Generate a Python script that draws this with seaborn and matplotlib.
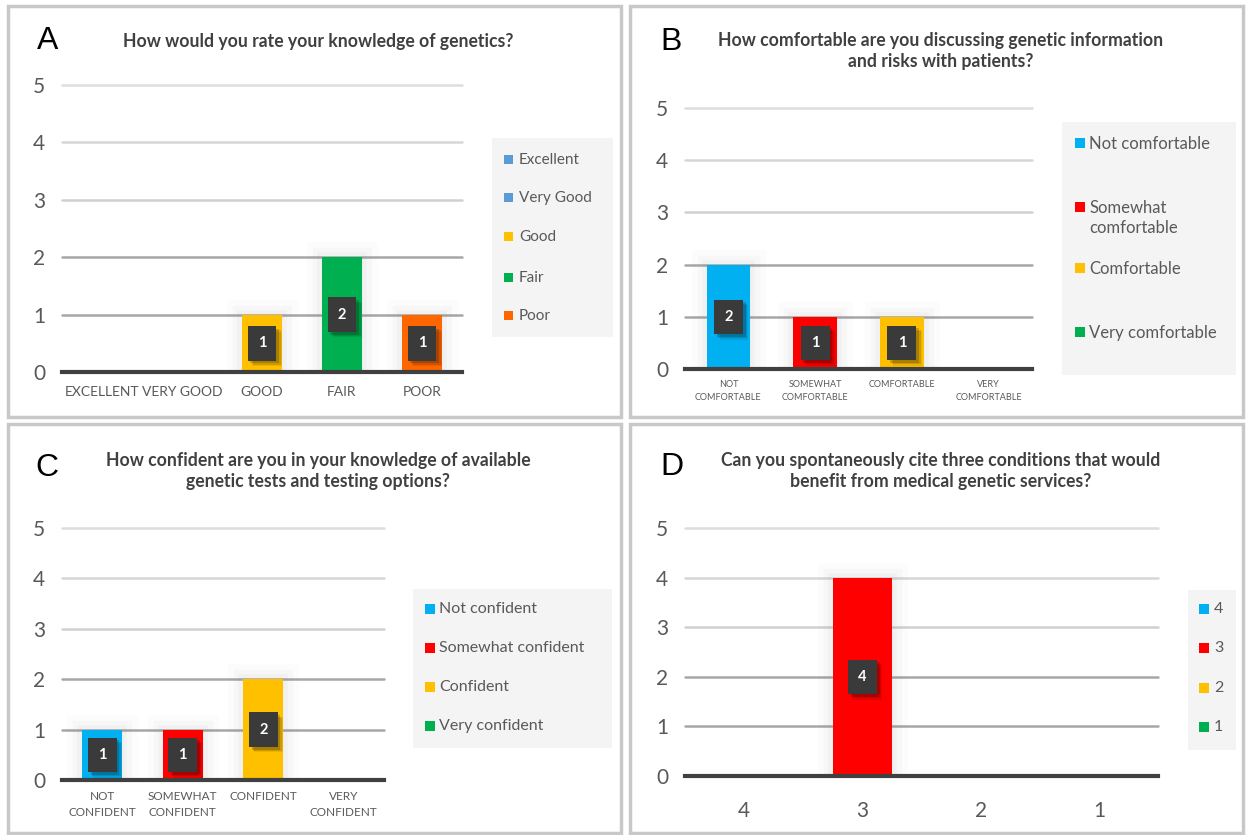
import matplotlib
matplotlib.use("Agg")
import matplotlib.pyplot as plt
import matplotlib.patheffects as pe
from matplotlib.patches import Rectangle
import pandas as pd
import seaborn as sns

# ---- survey answers -------------------------------------------------------
a_categories = ["EXCELLENT", "VERY GOOD", "GOOD", "FAIR", "POOR"]
a_labels = ["Excellent", "Very Good", "Good", "Fair", "Poor"]
a_values = [0, 0, 1, 2, 1]
a_colors = ["#5B9BD5", "#5B9BD5", "#FFC000", "#00B050", "#FF6600"]
a_title = "How would you rate your knowledge of genetics?"

b_categories = ["NOT\nCOMFORTABLE", "SOMEWHAT\nCOMFORTABLE", "COMFORTABLE", "VERY\nCOMFORTABLE"]
b_labels = ["Not comfortable", "Somewhat\ncomfortable", "Comfortable", "Very comfortable"]
b_values = [2, 1, 1, 0]
b_colors = ["#00B0F0", "#FF0000", "#FFC000", "#00B050"]
b_title = "How comfortable are you discussing genetic information\nand risks with patients?"

c_categories = ["NOT\nCONFIDENT", "SOMEWHAT\nCONFIDENT", "CONFIDENT", "VERY\nCONFIDENT"]
c_labels = ["Not confident", "Somewhat confident", "Confident", "Very confident"]
c_values = [1, 1, 2, 0]
c_colors = ["#00B0F0", "#FF0000", "#FFC000", "#00B050"]
c_title = "How confident are you in your knowledge of available\ngenetic tests and testing options?"

d_categories = ["4", "3", "2", "1"]
d_labels = ["4", "3", "2", "1"]
d_values = [0, 4, 0, 0]
d_colors = ["#00B0F0", "#FF0000", "#FFC000", "#00B050"]
d_title = "Can you spontaneously cite three conditions that would\nbenefit from medical genetic services?"

y_ticks = [0, 1, 2, 3, 4, 5]

# ---- style ------------------------------------------------------------------
sns.set_style("white")
plt.rcParams["font.family"] = ["Lato", "DejaVu Sans"]

W, H = 1247, 835
fig = plt.figure(figsize=(W / 100, H / 100), dpi=100)
fig.patch.set_facecolor("white")

TXT = "#595959"
AXIS = "#404040"


def px_rect(x0, x1, ytop, ybot):
    return [x0 / W, 1 - ybot / H, (x1 - x0) / W, (ybot - ytop) / H]


def fx(x):
    return x / W


def fy(y):
    return 1 - y / H


# soft glow around bars and a blurred drop shadow under value boxes
BAR_GLOW = [pe.Stroke(linewidth=w, foreground="#808080", alpha=a)
            for w, a in [(22, 0.025), (14, 0.035), (7, 0.045)]] + [pe.Normal()]
BOX_SHADOW = [pe.SimplePatchShadow(offset=(o, -o), shadow_rgbFace="black", alpha=a)
              for o, a in [(4, 0.08), (3, 0.12), (2, 0.18)]] + [pe.Normal()]


def panel(rect, cats, labels, values, colors, xfs, xpad, yfs=15):
    ax = fig.add_axes(rect)
    df = pd.DataFrame({"cat": cats, "label": labels, "n": values})
    sns.barplot(data=df, x="cat", y="n", hue="label", order=cats,
                hue_order=labels, palette=colors, dodge=False, width=0.5,
                saturation=1, legend=False, ax=ax, zorder=3,
                linewidth=0, edgecolor="none")
    n = len(cats)
    ax.set_xlim(-0.5, n - 0.5)
    ax.set_ylim(0, 5)
    ax.set_yticks(y_ticks)
    ax.set_xlabel("")
    ax.set_ylabel("")
    for s in ["top", "right", "left"]:
        ax.spines[s].set_visible(False)
    ax.spines["bottom"].set_color(AXIS)
    ax.spines["bottom"].set_linewidth(3)
    ax.spines["bottom"].set_zorder(5)
    grid_cols = {1: "#a6a6a6", 2: "#a6a6a6", 3: "#d0d0d0", 4: "#d6d6d6", 5: "#dddddd"}
    for v in y_ticks[1:]:
        ax.axhline(v, color=grid_cols[v], lw=1.8, zorder=1, clip_on=False)
    ax.set_xticks(range(n))
    ax.set_xticklabels(cats, fontsize=xfs, color=TXT, linespacing=1.5)
    ax.set_xticks([i - 0.5 for i in range(n + 1)], minor=True)
    ax.tick_params(axis="x", which="major", length=0, pad=xpad)
    ax.tick_params(axis="x", which="minor", length=5, width=2, color=AXIS,
                   direction="out")
    ax.tick_params(axis="y", length=0, pad=12, labelsize=yfs, labelcolor=TXT)
    ax.set_facecolor("none")
    # value labels in dark boxes at the middle of each bar
    for p in ax.patches:
        h = p.get_height()
        if h > 0:
            p.set_path_effects(BAR_GLOW)
            t = ax.text(p.get_x() + p.get_width() / 2, h / 2, f"{int(h)}",
                        ha="center", va="center", color="white",
                        fontsize=10.5, fontweight="bold", zorder=6,
                        bbox=dict(boxstyle="square,pad=0.7", fc="#3a3a3a",
                                  ec="none"))
            t.get_bbox_patch().set_path_effects(BOX_SHADOW)
    return ax


def legend_box(x0, x1, ytop, ybot, labels, colors, ys, fs, mx, msize, tx):
    fig.add_artist(Rectangle((fx(x0), fy(ybot)), fx(x1 - x0), (ybot - ytop) / H,
                             transform=fig.transFigure, fc="#f4f4f4", ec="none",
                             zorder=0))
    for lab, col, y in zip(labels, colors, ys):
        fig.add_artist(Rectangle((fx(mx), fy(y + msize / 2)), fx(msize), msize / H,
                                 transform=fig.transFigure, fc=col, ec="none"))
        fig.text(fx(tx), fy(y - fs * 1.39 * 0.42), lab, fontsize=fs, color=TXT,
                 ha="left", va="top", linespacing=1.3)


def heading(letter, lx, ly, title, tx, ty):
    fig.text(fx(lx), fy(ly), letter, fontsize=23, color="black",
             family=["Liberation Sans", "DejaVu Sans"], ha="center", va="center")
    fig.text(fx(tx), fy(ty), title, fontsize=12.7, fontweight="bold",
             color="#404040", ha="center", va="top", linespacing=1.3)


# panel frames
for (x0, y0, x1, y1) in [(8, 6, 621, 417), (630, 6, 1243, 417),
                         (8, 424, 621, 833), (630, 424, 1243, 833)]:
    fig.add_artist(Rectangle((fx(x0), fy(y1)), fx(x1 - x0), (y1 - y0) / H,
                             transform=fig.transFigure, fill=False,
                             ec="#c8c8c8", lw=2.5))

# A
panel(px_rect(62, 462, 85, 372), a_categories, a_labels, a_values, a_colors,
      xfs=10, xpad=10)
heading("A", 48, 41, a_title, 318, 33)
legend_box(492, 613, 138, 337, a_labels, a_colors, [159, 197, 236, 277, 315],
           11, 504, 9, 519)

# B
panel(px_rect(685, 1032, 108, 369), b_categories, b_labels, b_values, b_colors,
      xfs=6.5, xpad=8)
heading("B", 671, 42, b_title, 941, 32)
legend_box(1062, 1236, 122, 375, b_labels, b_colors, [143, 207, 268, 332],
           12, 1075, 10, 1089)

# C
panel(px_rect(62, 384, 528, 780), c_categories, c_labels, c_values, c_colors,
      xfs=8.5, xpad=8)
heading("C", 47, 468, c_title, 318, 452)
legend_box(413, 612, 589, 748, c_labels, c_colors, [609, 648, 687, 726],
           11.5, 425, 10, 439)

# D
panel(px_rect(685, 1158, 528, 776), d_categories, d_labels, d_values, d_colors,
      xfs=15, xpad=18)
heading("D", 672, 467, d_title, 941, 452)
legend_box(1188, 1236, 590, 750, d_labels, d_colors, [609, 648, 688, 727],
           11.5, 1199, 10, 1214)

fig.savefig("out.png", dpi=100, facecolor="white")
